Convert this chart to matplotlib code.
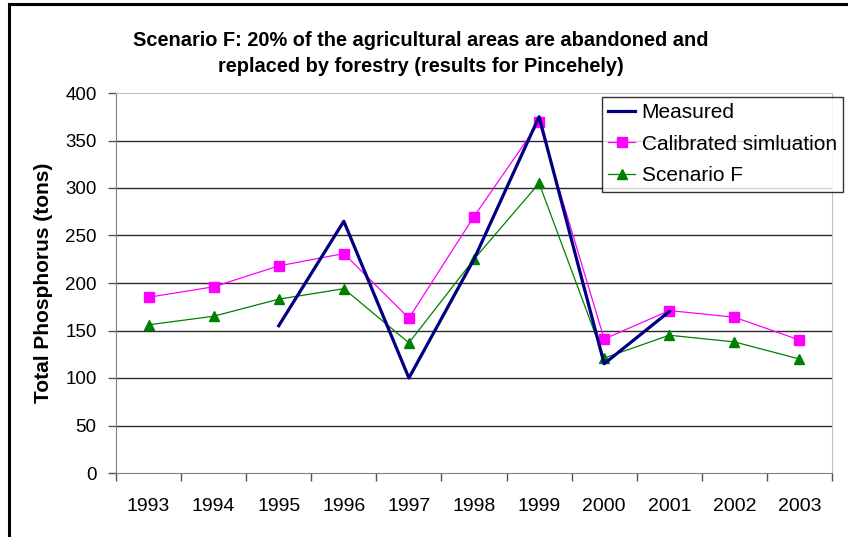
import matplotlib
matplotlib.use("Agg")
import matplotlib.pyplot as plt
from matplotlib.lines import Line2D
import numpy as np

years = ["1993", "1994", "1995", "1996", "1997", "1998", "1999", "2000", "2001", "2002", "2003"]
measured = [np.nan, np.nan, 155, 265, 100, 225, 375, 115, 170, np.nan, np.nan]
calibrated = [185, 196, 218, 231, 163, 270, 369, 141, 171, 164, 140]
scenario_f = [156, 165, 183, 194, 137, 225, 305, 121, 145, 138, 120]
yticks = [0, 50, 100, 150, 200, 250, 300, 350, 400]

plt.rcParams['font.family'] = ['Liberation Sans', 'DejaVu Sans']

fig = plt.figure(figsize=(8.48, 5.37), dpi=100)
ax = fig.add_axes([116/848, 1-473/537, (832-116)/848, (473-93)/537])

x = np.arange(len(years))
ax.plot(x, measured, color='#000080', lw=2.3, label='Measured', zorder=5)
ax.plot(x, calibrated, color='#ff00ff', lw=0.9, marker='s', ms=7,
        markeredgecolor='#ff00ff', markerfacecolor='#ff00ff', label='Calibrated simluation', zorder=4)
ax.plot(x, scenario_f, color='#008000', lw=0.9, marker='^', ms=7.5,
        markeredgecolor='#008000', markerfacecolor='#008000', label='Scenario F', zorder=4)

ax.set_xlim(-0.5, len(years) - 0.5)
ax.set_ylim(0, 400)
ax.set_yticks(yticks)
ax.set_yticklabels([str(v) for v in yticks])
for v in yticks[1:-1]:
    ax.axhline(v, color='#2a2a2a', lw=1.0, zorder=1)

ax.set_xticks(x)
ax.set_xticklabels(years)
ax.set_xticks(np.arange(-0.5, len(years)), minor=True)
ax.tick_params(axis='x', which='major', length=0, pad=18, labelsize=14)
ax.tick_params(axis='x', which='minor', length=6, width=1, color='#555555', direction='out')
ax.tick_params(axis='y', which='major', length=6, width=1, color='#555555', pad=8, labelsize=13.5)

ax.spines['left'].set_color('#808080')
ax.spines['bottom'].set_color('#808080')
ax.spines['top'].set_color('#c0c0c0')
ax.spines['right'].set_color('#c0c0c0')

ax.set_ylabel('Total Phosphorus (tons)', fontsize=15, fontweight='bold', labelpad=9)

fig.text(421/848, 1-40/537, 'Scenario F: 20% of the agricultural areas are abandoned and',
         ha='center', va='center', fontsize=14.4, fontweight='bold')
fig.text(421/848, 1-67/537, 'replaced by forestry (results for Pincehely)',
         ha='center', va='center', fontsize=14.4, fontweight='bold')

leg = ax.legend(loc='upper left', bbox_to_anchor=(602/848, 1-97/537), bbox_transform=fig.transFigure,
                fontsize=15, frameon=True, fancybox=False, shadow=False, borderpad=0.3,
                borderaxespad=0, handlelength=1.3, handletextpad=0.3, labelspacing=0.6)
leg.get_frame().set_edgecolor('black')
leg.get_frame().set_linewidth(1.0)

# outer border (top and left)
fig.add_artist(Line2D([9/848, 1], [1-4/537, 1-4/537], transform=fig.transFigure, color='black', lw=2.2))
fig.add_artist(Line2D([9/848, 9/848], [0, 1-4/537], transform=fig.transFigure, color='black', lw=2.2))

fig.savefig('out.png', dpi=100)
